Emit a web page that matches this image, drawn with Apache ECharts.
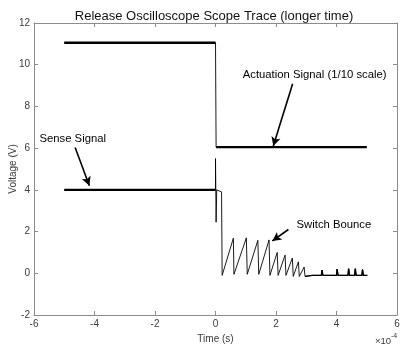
<!DOCTYPE html>
<html><head><meta charset="utf-8">
<script src="https://cdn.jsdelivr.net/npm/echarts@6/dist/echarts.min.js"></script>
<style>html,body{margin:0;padding:0;background:#fff}#c{width:403px;height:348px}</style>
</head><body><div id="c"></div>
<script>
// Time in units of 1e-4 s
const actuationT = [-5.0, 0.0, 0.02, 5.0];
const actuationV = [11.05, 11.05, 6.05, 6.05];

const senseT = [-5.0, 0.0, 0.0, 0.02, 0.04, 0.2, 0.22,
  0.59, 0.61, 1.02, 1.05, 1.40, 1.43, 1.77, 1.80,
  2.04, 2.07, 2.30, 2.33, 2.54, 2.57, 2.74, 2.77, 2.93, 2.96,
  3.2, 3.5, 3.52, 3.55, 4.0, 4.02, 4.05, 4.38, 4.40, 4.43, 4.6, 4.62, 4.65, 4.84, 4.86, 4.89, 5.02];
const senseV = [4.0, 4.0, 5.5, 2.45, 4.0, 3.9, -0.1,
  1.68, -0.05, 1.7, -0.05, 1.58, -0.05, 1.6, -0.1,
  1.0, -0.1, 0.87, -0.1, 0.73, -0.15, 0.55, -0.15, 0.3, -0.15,
  -0.1, -0.1, 0.15, -0.1, -0.1, 0.2, -0.1, -0.1, 0.22, -0.1, -0.1, 0.22, -0.1, -0.1, 0.18, -0.1, -0.1];

const xTicks = [-6, -4, -2, 0, 2, 4, 6];
const yTicks = [-2, 0, 2, 4, 6, 8, 10, 12];

const pairs = (t, v) => t.map((x, i) => [x, v[i]]);
const actuation = pairs(actuationT, actuationV);
const sense = pairs(senseT, senseV);
// flat (noisy, thick) segments
const actFlat1 = actuation.slice(0, 2);
const actFlat2 = actuation.slice(2, 4);
const senseFlat1 = sense.slice(0, 2);
const senseFlatTail = sense.slice(24);

const chart = echarts.init(document.getElementById('c'), null, {renderer: 'canvas'});
const axisCol = '#8c8c8c';
const labCol = '#3a3a3a';
const font = 'Liberation Sans, Arial, Helvetica, sans-serif';
const thin = {color: '#000', width: 0.9};
const thick = {color: '#000', width: 2.4};
const lineSeries = (data, ls, extra) => Object.assign({
  type: 'line', data, showSymbol: false, symbol: 'none', lineStyle: ls,
  animation: false, silent: true, z: 3
}, extra || {});

chart.setOption({
  animation: false,
  title: {
    text: 'Release Oscilloscope Scope Trace (longer time)',
    left: 209, top: 5, textAlign: 'center',
    textStyle: {fontFamily: font, fontSize: 13, fontWeight: 'normal', color: '#111'}
  },
  grid: {left: 34, right: 6, top: 23, bottom: 33, outerBoundsMode: 'none', containLabel: false},
  xAxis: [{
    type: 'value', min: -6, max: 6, interval: 2,
    axisLine: {onZero: false, lineStyle: {color: axisCol, width: 1}},
    axisTick: {inside: true, length: 4, lineStyle: {color: axisCol}},
    axisLabel: {color: labCol, fontSize: 10, fontFamily: font, margin: 4},
    splitLine: {show: false},
    name: 'Time (s)', nameLocation: 'middle', nameGap: 19, nameMoveOverlap: false,
    nameTextStyle: {color: labCol, fontSize: 10, fontFamily: font}
  }, {
    type: 'value', min: -6, max: 6, interval: 2, position: 'top',
    axisLine: {onZero: false, lineStyle: {color: axisCol, width: 1}},
    axisTick: {inside: true, length: 4, lineStyle: {color: axisCol}},
    axisLabel: {show: false}, splitLine: {show: false}
  }],
  yAxis: [{
    type: 'value', min: -2, max: 12, interval: 2,
    axisLine: {show: true, onZero: false, lineStyle: {color: axisCol, width: 1}},
    axisTick: {show: true, inside: true, length: 4, lineStyle: {color: axisCol}},
    axisLabel: {color: labCol, fontSize: 10, fontFamily: font, margin: 4},
    splitLine: {show: false},
    name: 'Voltage (V)', nameLocation: 'middle', nameGap: 16, nameMoveOverlap: false,
    nameTextStyle: {color: labCol, fontSize: 10, fontFamily: font}
  }, {
    type: 'value', min: -2, max: 12, interval: 2, position: 'right',
    axisLine: {show: true, onZero: false, lineStyle: {color: axisCol, width: 1}},
    axisTick: {show: true, inside: true, length: 4, lineStyle: {color: axisCol}},
    axisLabel: {show: false}, splitLine: {show: false}
  }],
  series: [
    lineSeries(actuation, thin),
    lineSeries(sense, thin),
    lineSeries(actFlat1, thick),
    lineSeries(actFlat2, thick),
    lineSeries(senseFlat1, thick),
    lineSeries(senseFlatTail, {color: '#000', width: 1.4}),
    {
      type: 'line', data: [], silent: true, animation: false,
      markLine: {
        silent: true, animation: false,
        symbol: ['none', 'arrow'], symbolSize: [7, 9],
        lineStyle: {color: '#000', width: 1.6, type: 'solid'},
        label: {show: false},
        data: [
          [{coord: [2.55, 9.09]}, {coord: [1.91, 6.1]}],
          [{coord: [-4.64, 6.03]}, {coord: [-4.17, 4.2]}],
          [{coord: [2.41, 2.1]}, {coord: [1.88, 1.55]}]
        ]
      }
    }
  ]
});

const p = (t, v) => chart.convertToPixel({gridIndex: 0}, [t, v]);
const annFont = '11.3px ' + font;
const a1 = p(0.9, 9.49), a2 = p(-5.82, 6.46), a3 = p(2.68, 2.31);
chart.setOption({
  graphic: [
    {type: 'text', x: a1[0], y: a1[1], style: {text: 'Actuation Signal (1/10 scale)', font: annFont, fill: '#000', textVerticalAlign: 'middle'}},
    {type: 'text', x: a2[0], y: a2[1], style: {text: 'Sense Signal', font: annFont, fill: '#000', textVerticalAlign: 'middle'}},
    {type: 'text', x: a3[0], y: a3[1], style: {text: 'Switch Bounce', font: annFont, fill: '#000', textVerticalAlign: 'middle'}},
    {type: 'text', x: 375, y: 341, style: {text: '×10', font: '9.5px ' + font, fill: labCol, textVerticalAlign: 'middle'}},
    {type: 'text', x: 391, y: 336, style: {text: '-4', font: '7px ' + font, fill: labCol, textVerticalAlign: 'middle'}}
  ]
});
</script></body></html>
